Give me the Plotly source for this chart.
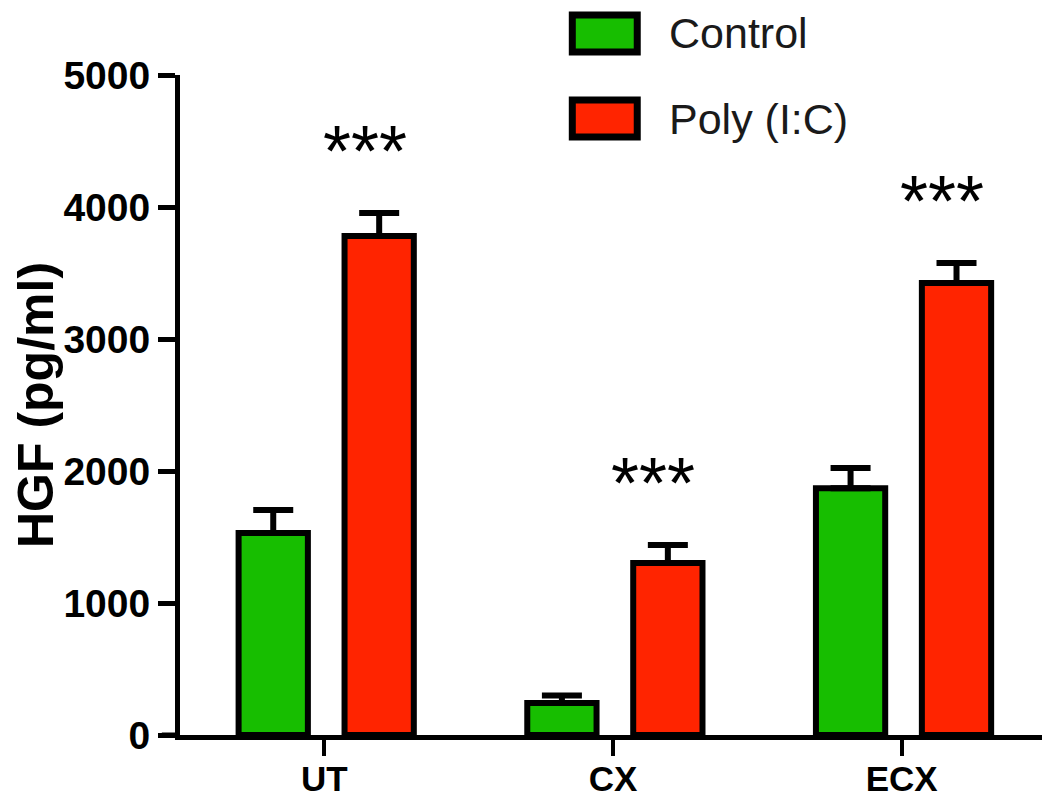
import plotly.graph_objects as go

categories = ["UT", "CX", "ECX"]
series_names = ["Control", "Poly (I:C)"]
control_mean = [1530, 242, 1870]
control_err = [175, 58, 153]
poly_mean = [3780, 1303, 3424]
poly_err = [175, 137, 152]
significance = ["***", "***", "***"]
y_ticks = [0, 1000, 2000, 3000, 4000, 5000]

GREEN = "#17BE00"
RED = "#FF2400"
BAR_W = 0.24
CTRL_C = -0.177
POLY_C = 0.19

fig = go.Figure()
for name, mean, err, color, center in [
    (series_names[0], control_mean, control_err, GREEN, CTRL_C),
    (series_names[1], poly_mean, poly_err, RED, POLY_C),
]:
    fig.add_trace(go.Bar(
        x=categories, y=mean, name=name,
        width=BAR_W, offset=center - BAR_W / 2,
        marker=dict(color=color, line=dict(color="black", width=6)),
        error_y=dict(type="data", array=err, arrayminus=[0] * len(err),
                     symmetric=False, color="black", thickness=6, width=20),
        showlegend=False,
    ))

# significance markers above the Poly (I:C) bars
for i, s in enumerate(significance):
    fig.add_annotation(
        x=i + POLY_C - 0.05, y=poly_mean[i] + poly_err[i], xref="x", yref="y",
        text=s, showarrow=False, yanchor="middle", yshift=62,
        font=dict(family="Liberation Sans, Arial", size=72, color="black"),
    )

# custom legend (large swatches)
legend_colors = [GREEN, RED]
legend_y = [1.063, 0.934]
for name, color, ly in zip(series_names, legend_colors, legend_y):
    fig.add_shape(type="rect", xref="paper", yref="paper",
                  x0=0.453, x1=0.528, y0=ly - 0.028, y1=ly + 0.028,
                  fillcolor=color, line=dict(color="black", width=7))
    fig.add_annotation(x=0.562, y=ly, xref="paper", yref="paper", text=name,
                       showarrow=False, xanchor="left", yanchor="middle",
                       font=dict(family="Liberation Sans, Arial", size=43, color="#1a1a1a"))

# extend x-axis line to the left of the y-axis
fig.add_shape(type="line", xref="paper", yref="y", x0=-0.021, x1=0, y0=0, y1=0,
              line=dict(color="black", width=5))

fig.update_layout(
    width=1042, height=796,
    margin=dict(l=172, r=4, t=67, b=69),
    plot_bgcolor="white", paper_bgcolor="white",
    barmode="group",
    font=dict(family="Liberation Sans, Arial", color="black"),
    xaxis=dict(
        type="category", range=[-0.5, 2.5], automargin=False,
        showline=True, linecolor="black", linewidth=5,
        ticks="outside", ticklen=16, tickwidth=4, tickcolor="black",
        tickfont=dict(size=35, family="Liberation Sans, Arial", weight="bold"),
        ticklabelstandoff=-7,
        showgrid=False, zeroline=False,
    ),
    yaxis=dict(
        range=[0, 5000], tickvals=y_ticks, automargin=False,
        showline=True, linecolor="black", linewidth=5,
        ticks="outside", ticklen=17, tickwidth=5, tickcolor="black",
        tickfont=dict(size=39, family="Liberation Sans, Arial", weight="bold"),
        showgrid=False, zeroline=False,
        title=dict(text="HGF (pg/ml)", standoff=18,
                   font=dict(size=50, family="Liberation Sans, Arial", weight="bold")),
    ),
)

fig.write_html("out.html")
